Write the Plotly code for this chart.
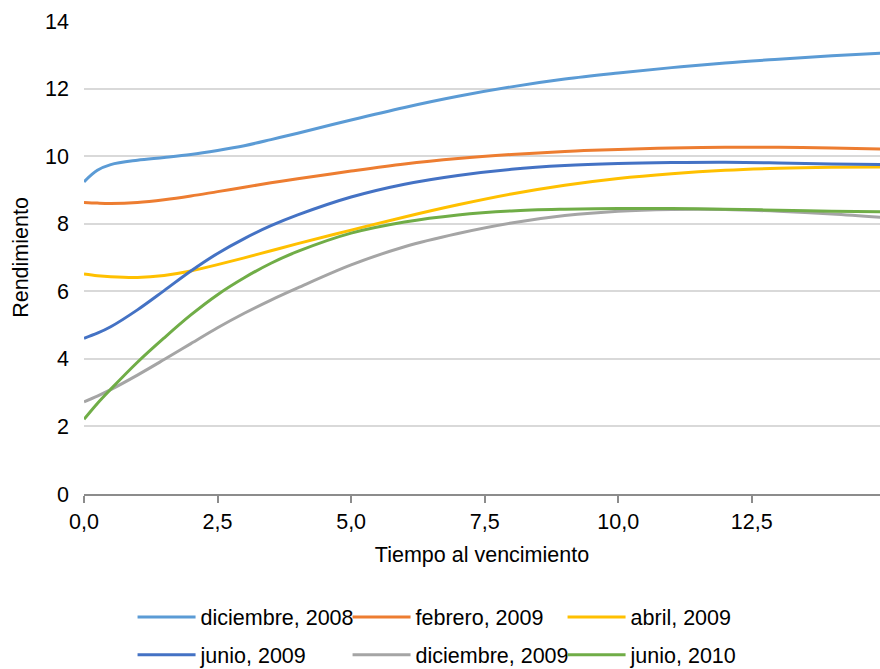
import plotly.graph_objects as go

# Maturities (years) at which each yield curve is sampled
plazos = [0, 0.25, 0.5, 1, 1.5, 2, 2.5, 3, 3.5, 4, 5, 6, 7, 8, 9, 10, 11, 12, 13, 14, 15]

dic_2008 = [9.24, 9.58, 9.75, 9.88, 9.96, 10.05, 10.17, 10.31, 10.49, 10.68, 11.07, 11.44, 11.77,
            12.05, 12.28, 12.46, 12.62, 12.76, 12.87, 12.97, 13.05]
feb_2009 = [8.63, 8.61, 8.60, 8.63, 8.71, 8.82, 8.95, 9.08, 9.21, 9.33, 9.56, 9.77, 9.93,
            10.05, 10.14, 10.20, 10.24, 10.26, 10.26, 10.24, 10.21]
abr_2009 = [6.51, 6.46, 6.43, 6.41, 6.47, 6.60, 6.79, 6.99, 7.20, 7.41, 7.81, 8.20, 8.56,
            8.88, 9.14, 9.34, 9.48, 9.58, 9.64, 9.67, 9.68]
jun_2009 = [4.61, 4.76, 4.95, 5.45, 6.02, 6.60, 7.12, 7.56, 7.94, 8.26, 8.79, 9.17, 9.43,
            9.61, 9.72, 9.78, 9.81, 9.82, 9.80, 9.77, 9.75]
dic_2009 = [2.73, 2.90, 3.09, 3.52, 3.98, 4.45, 4.92, 5.35, 5.74, 6.10, 6.78, 7.32, 7.71,
            8.02, 8.24, 8.37, 8.42, 8.42, 8.37, 8.29, 8.18]
jun_2010 = [2.21, 2.68, 3.10, 3.90, 4.62, 5.30, 5.90, 6.40, 6.83, 7.18, 7.72, 8.05, 8.26,
            8.38, 8.43, 8.45, 8.45, 8.43, 8.40, 8.37, 8.35]

nombres = ["diciembre, 2008", "febrero, 2009", "abril, 2009",
           "junio, 2009", "diciembre, 2009", "junio, 2010"]
series = [dic_2008, feb_2009, abr_2009, jun_2009, dic_2009, jun_2010]
colores = ["#5B9BD5", "#ED7D31", "#FFC000", "#4472C4", "#A5A5A5", "#70AD47"]
# first three curves in the upper legend row, the rest in the lower one
filas_leyenda = ["legend", "legend", "legend", "legend2", "legend2", "legend2"]

y_ticks = [0, 2, 4, 6, 8, 10, 12, 14]
x_ticks = [0, 2.5, 5, 7.5, 10, 12.5]

FONT = "Liberation Sans, Arial, sans-serif"
FS = 21.5

fig = go.Figure()
for nombre, valores, color, fila in zip(nombres, series, colores, filas_leyenda):
    fig.add_trace(go.Scatter(
        x=plazos, y=valores, name=nombre, mode="lines", legend=fila,
        line=dict(color=color, width=3, shape="spline", smoothing=1.0),
    ))

leyenda_comun = dict(
    orientation="h", xanchor="left", yanchor="middle",
    entrywidth=142, entrywidthmode="pixels", itemwidth=58,
    font=dict(family=FONT, size=FS, color="#000000"),
    traceorder="normal", bgcolor="rgba(0,0,0,0)",
)

fig.update_layout(
    width=880, height=669,
    margin=dict(l=84, r=0, t=21, b=175, autoexpand=False),
    paper_bgcolor="white", plot_bgcolor="white",
    separators=", ",
    font=dict(family=FONT, size=FS, color="#000000"),
    showlegend=True,
    legend=dict(leyenda_comun, x=0.061, y=-0.26),
    legend2=dict(leyenda_comun, x=0.061, y=-0.34),
    xaxis=dict(
        range=[0, 14.9], tickvals=x_ticks, tickformat=".1f",
        showgrid=False, zeroline=False,
        showline=True, linecolor="#8C8C8C", linewidth=1.5,
        ticks="outside", ticklen=7, tickcolor="#8C8C8C", tickwidth=1.5,
        tickfont=dict(family=FONT, size=FS, color="#000000"),
        title=dict(text="Tiempo al vencimiento", standoff=14,
                   font=dict(family=FONT, size=FS, color="#000000")),
    ),
    yaxis=dict(
        range=[0, 14], tickvals=y_ticks,
        showgrid=True, gridcolor="#D9D9D9", gridwidth=1.5,
        zeroline=False, showline=False, ticks="",
        ticklabelstandoff=14,
        tickfont=dict(family=FONT, size=FS, color="#000000"),
        title=dict(text="Rendimiento", standoff=10,
                   font=dict(family=FONT, size=FS, color="#000000")),
    ),
)

fig.write_html("out.html")
